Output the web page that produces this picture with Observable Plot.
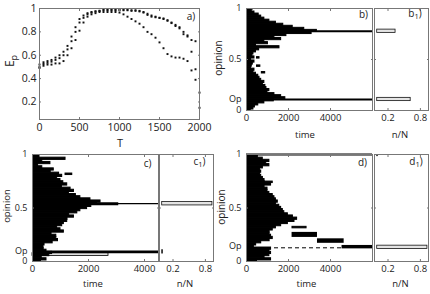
<!DOCTYPE html>
<html><head><meta charset="utf-8">
<script src="https://cdn.jsdelivr.net/npm/d3@7"></script>
<script src="https://cdn.jsdelivr.net/npm/@observablehq/plot@0.6"></script>
<style>
body{margin:0;background:#fff;}
#fig{position:relative;width:430px;height:294px;overflow:hidden;font-family:"Open Sans",sans-serif;color:#222;background:#fff;}
#fig > svg, #fig > .lbl{position:absolute;}
.lbl{white-space:nowrap;line-height:1;}
.lbl sub{font-size:75%;vertical-align:-0.25em;}
</style></head><body><div id="fig"></div>
<script>
// ---------- panel a: E_p versus T ----------
const aT = [0,50,100,150,200,250,300,350,400,450,500,550,600,650,700,750,800,850,900,950,1000,1050,1100,1150,1200,1250,1300,1350,1400,1450,1500,1550,1600,1650,1700,1750,1800,1850,1900,1950,2000];
const aRun1 = [0.52,0.54,0.55,0.56,0.58,0.60,0.63,0.68,0.76,0.84,0.91,0.94,0.96,0.97,0.975,0.98,0.985,0.985,0.985,0.985,0.985,0.985,0.985,0.98,0.98,0.975,0.965,0.945,0.93,0.925,0.92,0.915,0.895,0.875,0.86,0.84,0.78,0.77,0.73,0.72,null];
const aRun2 = [0.49,0.51,0.52,0.52,0.53,0.53,0.55,0.60,0.66,0.73,0.81,0.88,0.93,0.95,0.96,0.97,0.97,0.97,0.97,0.97,0.965,0.95,0.93,0.91,0.89,0.87,0.84,0.80,0.78,0.75,0.71,0.66,0.61,0.59,0.58,0.58,0.57,0.55,0.47,0.39,0.15];
const aRun3 = [0.50,0.525,0.535,0.545,0.56,0.575,0.60,0.65,0.72,0.80,0.88,0.92,0.95,0.965,0.975,0.98,0.99,0.99,0.99,0.99,0.99,0.99,0.99,0.985,0.985,0.98,0.97,0.955,0.94,0.93,0.92,0.91,0.90,0.88,0.85,0.83,0.80,0.76,0.63,0.48,0.28];
const aXTicks = [0,500,1000,1500,2000];
const aYTicks = [0.2,0.4,0.6,0.8,1];
const aYLabels = ["0.2","0.4","0.6","0.8","1"];

// ---------- panels b, c, d: opinion trajectories ----------
const binOp = [1.00,0.98,0.96,0.94,0.92,0.90,0.88,0.86,0.84,0.82,0.80,0.78,0.76,0.74,0.72,0.70,0.68,0.66,0.64,0.62,0.60,0.58,0.56,0.54,0.52,0.50,0.48,0.46,0.44,0.42,0.40,0.38,0.36,0.34,0.32,0.30,0.28,0.26,0.24,0.22,0.20,0.18,0.16,0.14,0.12,0.10,0.08,0.06,0.04,0.02,0.00];
const bTime = [300,250,380,580,700,850,1090,1400,1750,2200,2750,3350,3100,1900,1330,1650,850,1020,450,1570,600,450,330,280,380,220,380,300,250,220,380,330,450,560,620,700,850,780,900,950,1090,1000,1330,1650,1850,1300,850,560,400,330,200];
const cTime = [230,250,1180,350,640,200,350,760,650,950,1060,880,1000,1100,1240,1050,1360,1480,1300,1550,1710,2070,2430,2300,2100,1950,1710,1600,1310,1480,1250,1240,1120,1060,880,1000,1120,680,850,850,910,720,430,390,400,500,700,600,330,500,300];
const dTime = [540,540,775,1090,940,1090,780,640,700,640,700,780,860,860,1170,860,1000,1000,1090,1250,1330,1400,1490,1400,1560,1650,1730,1800,1970,2210,2410,2285,1970,1650,1400,1250,1100,1100,1170,1250,1100,700,460,350,1170,1095,1170,1090,860,1170,500];

// detached trajectory pieces: opinion, start time, end time
const bSegOp = [0.516,0.435,0.37];
const bSegStart = [500,500,730];
const bSegEnd = [620,660,890];
const cSegOp = [0.815];
const cSegStart = [1180];
const cSegEnd = [1420];
const dSegOp = [0.74,0.317];
const dSegStart = [860,2190];
const dSegEnd = [1250,2860];
// d: late blocks (opinion low, opinion high, start, end)
const dBlockLo = [0.225,0.17,0.118];
const dBlockHi = [0.272,0.212,0.15];
const dBlockStart = [2170,3380,4550];
const dBlockEnd = [3380,4650,6000];

// surviving clusters
const bClusterOp = [0.777,0.108];
const cClusterOp = 0.54, cClusterThickEnd = 3080;
const cOpBar = 0.09;
const cHollow = {lo:0.052, hi:0.078, end:2714};
const dDashOp = 0.128, dDashEnd = 4550;
const dTopOp = 1.0;

// final distributions n/N
const b1Op = [0.777,0.108], b1Frac = [0.34,0.62];
const c1Op = [0.54,0.09],   c1Frac = [0.93,0.015];
const d1Op = [0.132,1.0],   d1Frac = [0.93,0.012];

const bEnd = 6000, cEnd = 4500, dEnd = 6000;
const bOpTick = 0.108, cOpTick = 0.095, dOpTick = 0.14;
const timeTicks2 = [0,2000,4000];
const fracTicks = [0.2,0.8];

// ---------- drawing ----------
const fig = document.getElementById("fig");
const FRAME = "#777";
function style(fs){return {fontFamily:"'Open Sans', sans-serif", fontSize: fs+"px", background:"transparent", color:"#222", overflow:"visible"};}
function mount(box, m, spec){
  const [x0,y0,x1,y1] = box; const [mt,mr,mb,ml] = m;
  const svg = Plot.plot({width:x1-x0+ml+mr, height:y1-y0+mt+mb, marginTop:mt, marginRight:mr, marginBottom:mb, marginLeft:ml, ...spec});
  svg.style.position="absolute"; svg.style.left=(x0-ml)+"px"; svg.style.top=(y0-mt)+"px";
  svg.style.maxWidth="none";
  fig.appendChild(svg);
}
function addText(html, cx, cy, size, rot=0){
  const d = document.createElement("div");
  d.className="lbl"; d.innerHTML=html;
  d.style.left=cx+"px"; d.style.top=cy+"px"; d.style.fontSize=size+"px";
  d.style.transform=`translate(-50%,-50%) rotate(${rot}deg)`;
  fig.appendChild(d);
}
function innerTicks(xt, yt){
  const o = {tickSize:2, tickFormat:()=>"", label:null, stroke:FRAME};
  return [
    Plot.axisX({...o, ticks:xt, anchor:"bottom", dy:-2}),
    Plot.axisX({...o, ticks:xt, anchor:"top", dy:2}),
    Plot.axisY({...o, ticks:yt, anchor:"left", dx:2}),
    Plot.axisY({...o, ticks:yt, anchor:"right", dx:-2})
  ];
}
const plain = d => String(d);

// panel a
{
  const pts = [];
  aT.forEach((t,i)=>{ [aRun1,aRun2,aRun3].forEach(r=>{ if(r[i]!=null) pts.push({t, e:r[i]}); }); });
  mount([39,8,199,119],[2,4,22,40],{
    style: style(10.5),
    x:{domain:[0,2000]}, y:{domain:[0.05,1]},
    marks:[
      Plot.dot(pts,{x:"t", y:"e", symbol:"square", r:1.1, fill:"#111", stroke:null}),
      ...innerTicks(aXTicks, aYTicks),
      Plot.axisX({ticks:aXTicks, tickSize:0, tickPadding:4, label:null, tickFormat:plain}),
      Plot.axisY({ticks:aYTicks, tickSize:0, tickPadding:3, label:null, tickFormat:d=>aYLabels[aYTicks.indexOf(d)]}),
      Plot.frame({stroke:FRAME})
    ]
  });
  addText("T",120,142,11);
  addText("E<sub>p</sub>",11,61,12,-90);
  addText("a)",191,16,10);
}

const solid = {fill:"#000", stroke:"#000", strokeWidth:1, inset:0, clip:true};
function trajPanel(box, times, end, segOp, segS, segE, extra, opTick){
  const rows = binOp.map((v,i)=>({v, t:times[i]}));
  const segs = segOp.map((v,i)=>({v, t1:segS[i], t2:segE[i]}));
  const yt = [0, opTick, 0.5, 1], yl = ["0","Op","0.5","1"];
  mount(box,[2,2,20,40],{
    style: style(9.5),
    x:{domain:[0,end]}, y:{domain:[0,1]},
    marks:[
      ...extra.before,
      Plot.rectX(rows,{x1:0, x2:"t", y1:d=>d.v-0.0105, y2:d=>d.v+0.0105, ...solid}),
      Plot.rectX(segs,{x1:"t1", x2:"t2", y1:d=>d.v-0.007, y2:d=>d.v+0.007, ...solid}),
      ...extra.after,
      ...innerTicks(timeTicks2, [0.5]),
      Plot.axisX({ticks:timeTicks2, tickSize:0, tickPadding:4, label:null, tickFormat:plain}),
      Plot.axisY({ticks:yt, tickSize:0, tickPadding:5, label:null, fontSize:9, tickFormat:d=>yl[yt.indexOf(d)]}),
      Plot.frame({stroke:FRAME})
    ]
  });
}
function distPanel(box, ops, fracs){
  const rows = ops.map((v,i)=>({v, f:fracs[i]}));
  mount(box,[2,2,20,2],{
    style: style(9.5),
    x:{domain:[-0.05,0.95]}, y:{domain:[0,1]},
    marks:[
      Plot.rectX(rows,{x1:0, x2:"f", y1:d=>d.v-0.016, y2:d=>d.v+0.016, fill:"#e4e4e4", stroke:"#111", strokeWidth:0.8, inset:0, clip:true}),
      ...innerTicks(fracTicks, [0.5]),
      Plot.axisX({ticks:fracTicks, tickSize:0, tickPadding:4, label:null, tickFormat:plain}),
      Plot.frame({stroke:FRAME})
    ]
  });
}

// panel b
trajPanel([246,8,372,110], bTime, bEnd, bSegOp, bSegStart, bSegEnd, {
  before:[],
  after:[Plot.ruleY(bClusterOp,{y:d=>d, x1:0, x2:bEnd, stroke:"#000", strokeWidth:2})]
}, bOpTick);
distPanel([374,8,428,110], b1Op, b1Frac);
addText("opinion",218,58,10,-90);
addText("time",305,135,9.5);
addText("n/N",400,135,9.5);
addText("b)",363.5,14,10);
addText("b<sub>1</sub>)",415,14,10);

// panel c
trajPanel([32,154,158,261], cTime, cEnd, cSegOp, cSegStart, cSegEnd, {
  before:[Plot.rectX([cHollow],{x1:0, x2:"end", y1:"lo", y2:"hi", fill:"#e0e0e0", stroke:"#000", strokeWidth:0.8, inset:0})],
  after:[
    Plot.ruleY([cClusterOp],{y:d=>d, x1:0, x2:cClusterThickEnd, stroke:"#000", strokeWidth:3}),
    Plot.ruleY([cClusterOp],{y:d=>d, x1:0, x2:cEnd, stroke:"#000", strokeWidth:1.3}),
    Plot.ruleY([cOpBar],{y:d=>d, x1:0, x2:cEnd, stroke:"#000", strokeWidth:2.7})
  ]
}, cOpTick);
distPanel([159,154,213,261], c1Op, c1Frac);
addText("opinion",7,206,9.5,-90);
addText("time",93,284,9.5);
addText("n/N",185,284,9.5);
addText("c)",147.5,162.5,10);
addText("c<sub>1</sub>)",199.5,162,10);

// panel d
const dBlocks = dBlockLo.map((lo,i)=>({lo, hi:dBlockHi[i], s:dBlockStart[i], e:dBlockEnd[i]}));
trajPanel([246,154,372,261], dTime, dEnd, dSegOp, dSegStart, dSegEnd, {
  before:[Plot.ruleY([dDashOp],{y:d=>d, x1:0, x2:dDashEnd, stroke:"#000", strokeWidth:1, strokeDasharray:"4,3"})],
  after:[
    Plot.rectX(dBlocks,{x1:"s", x2:"e", y1:"lo", y2:"hi", fill:"#000", inset:0, clip:true}),
    Plot.ruleY([dTopOp],{y:d=>d, x1:0, x2:dEnd, stroke:"#000", strokeWidth:2})
  ]
}, dOpTick);
distPanel([374,154,428,261], d1Op, d1Frac);
addText("opinion",221,207,10,-90);
addText("time",306.5,284,9.5);
addText("n/N",400.5,284,9.5);
addText("d)",362.5,162,10);
addText("d<sub>1</sub>)",416,162,10);
</script></body></html>
